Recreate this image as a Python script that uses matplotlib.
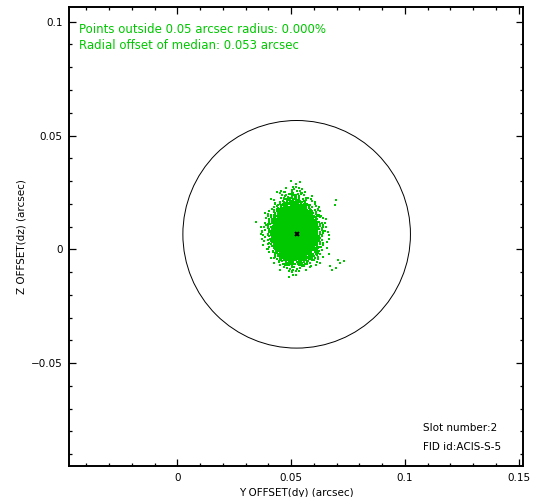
import matplotlib
matplotlib.use("Agg")
import matplotlib.pyplot as plt
from matplotlib.patches import Circle
from matplotlib.ticker import MultipleLocator, FixedLocator, FixedFormatter

# ---------------- data ----------------
median_dy = 0.0524          # arcsec
median_dz = 0.0066          # arcsec
circle_radius = 0.05        # arcsec
pct_outside = "0.000%"
radial_offset = "0.053"
slot_number = 2
fid_id = "ACIS-S-5"

x_ticks = [0, 0.05, 0.1, 0.15]
x_tick_labels = ["0", "0.05", "0.1", "0.15"]
y_ticks = [-0.05, 0, 0.05, 0.1]
y_tick_labels = ["\u22120.05", "0", "0.05", "0.1"]

# density of the point cloud (points per 0.0025" cell)
cloud_cell = 0.0025
cloud_x_left = 0.0344
cloud_y_top = 0.0302
density_rows = [
    [0, 0, 0, 0, 0, 0, 1, 2, 0, 0, 0, 0, 0, 0, 0, 0],
    [0, 0, 0, 0, 1, 2, 3, 4, 1, 0, 0, 0, 0, 0, 0, 0],
    [0, 0, 0, 1, 2, 5, 7, 6, 3, 1, 0, 0, 0, 0, 0, 0],
    [0, 0, 1, 2, 5, 9, 12, 11, 7, 3, 1, 0, 0, 0, 1, 0],
    [0, 0, 1, 4, 9, 15, 19, 18, 13, 7, 3, 1, 0, 1, 0, 0],
    [0, 1, 2, 8, 17, 26, 30, 28, 21, 13, 6, 2, 0, 0, 0, 0],
    [0, 1, 5, 15, 28, 38, 42, 40, 33, 22, 11, 4, 1, 0, 0, 0],
    [1, 2, 7, 22, 38, 48, 52, 50, 44, 32, 17, 5, 1, 0, 0, 0],
    [1, 3, 9, 26, 42, 52, 56, 54, 48, 36, 20, 6, 2, 0, 0, 0],
    [1, 3, 9, 26, 44, 54, 58, 56, 50, 38, 21, 7, 2, 0, 0, 0],
    [0, 2, 7, 24, 42, 52, 56, 54, 48, 36, 18, 6, 2, 0, 0, 0],
    [0, 1, 5, 18, 36, 48, 52, 50, 42, 30, 14, 5, 1, 0, 0, 0],
    [0, 0, 2, 10, 26, 38, 42, 40, 32, 20, 9, 3, 1, 0, 0, 0],
    [0, 0, 1, 5, 13, 22, 26, 24, 18, 11, 5, 2, 0, 0, 1, 0],
    [0, 0, 0, 1, 5, 9, 11, 10, 7, 4, 2, 1, 0, 1, 1, 1],
    [0, 0, 0, 0, 1, 3, 5, 4, 2, 1, 0, 0, 0, 1, 1, 0],
    [0, 0, 0, 0, 0, 1, 2, 1, 0, 0, 0, 0, 0, 0, 0, 0],
]

# ---------------- figure ----------------
plt.rcParams["font.family"] = ["DejaVu Sans"]
FS = 7.5
FS_GREEN = 8.5
GREEN = "#00c800"

fig = plt.figure(figsize=(5.45, 4.97), dpi=100)
ax = fig.add_axes([0.1272, 0.0624, 0.8330, 0.9241])
ax.set_xlim(-0.0475, 0.152)
ax.set_ylim(-0.0952, 0.1066)

# spread each cell's count over the cell with a low-discrepancy pattern
g = 1.32471795724
a1, a2 = 1.0 / g, 1.0 / (g * g)
xs, ys = [], []
k = 0
for r, row in enumerate(density_rows):
    y_top = cloud_y_top - r * cloud_cell
    for c, n in enumerate(row):
        x_left = cloud_x_left + c * cloud_cell
        for _ in range(n):
            k += 1
            u = (0.5 + k * a1) % 1.0
            v = (0.5 + k * a2) % 1.0
            xs.append(x_left + u * cloud_cell)
            ys.append(y_top - v * cloud_cell)

ax.scatter(xs, ys, s=0.8, marker="s", color=GREEN, linewidths=0, zorder=2)

ax.add_patch(Circle((median_dy, median_dz), circle_radius, fill=False,
                    edgecolor="black", linewidth=0.7, zorder=3))
ax.plot([median_dy], [median_dz], marker="x", color="black", markersize=3.5,
        markeredgewidth=1.4, zorder=4)

# ticks
ax.xaxis.set_major_locator(FixedLocator(x_ticks))
ax.xaxis.set_major_formatter(FixedFormatter(x_tick_labels))
ax.yaxis.set_major_locator(FixedLocator(y_ticks))
ax.yaxis.set_major_formatter(FixedFormatter(y_tick_labels))
ax.xaxis.set_minor_locator(MultipleLocator(0.01))
ax.yaxis.set_minor_locator(MultipleLocator(0.01))
ax.tick_params(which="both", direction="in", top=True, right=True,
               labelsize=FS, width=0.9, color="black")
ax.tick_params(which="major", length=5, pad=5)
ax.tick_params(which="minor", length=2.5)
for sp in ax.spines.values():
    sp.set_linewidth(1.4)

ax.set_xlabel("Y OFFSET(dy) (arcsec)", fontsize=FS)
ax.set_ylabel("Z OFFSET(dz) (arcsec)", fontsize=FS)
ax.xaxis.set_label_coords(0.5, -0.047)
ax.yaxis.set_label_coords(-0.095, 0.5)

ax.text(0.0214, 0.942, f"Points outside 0.05 arcsec radius: {pct_outside}",
        transform=ax.transAxes, color=GREEN, fontsize=FS_GREEN, va="baseline")
ax.text(0.0214, 0.9072, f"Radial offset of median: {radial_offset} arcsec",
        transform=ax.transAxes, color=GREEN, fontsize=FS_GREEN, va="baseline")
ax.text(0.7786, 0.0751, f"Slot number:{slot_number}",
        transform=ax.transAxes, color="black", fontsize=FS, va="baseline")
ax.text(0.7786, 0.0357, f"FID id:{fid_id}",
        transform=ax.transAxes, color="black", fontsize=FS, va="baseline")

fig.savefig("out.png", dpi=100)
